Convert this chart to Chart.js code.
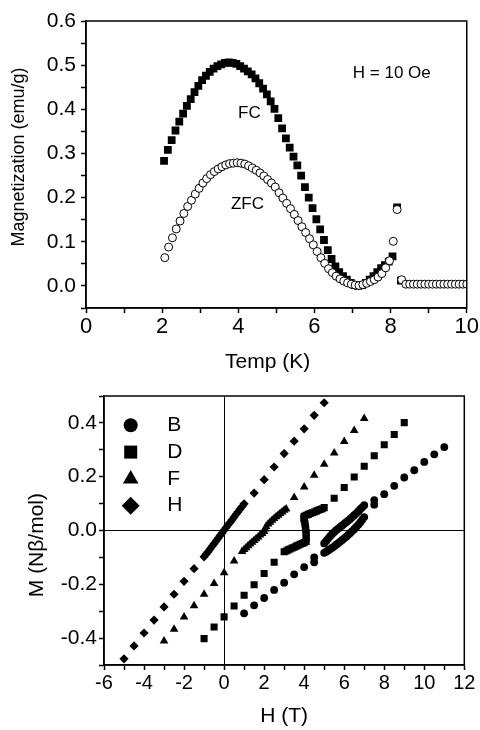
<!DOCTYPE html>
<html>
<head>
<meta charset="utf-8">
<title>Magnetization vs temperature and field</title>
<script src="https://cdn.jsdelivr.net/npm/chart.js@4.4.1/dist/chart.umd.min.js"></script>
<style>
  html, body { margin: 0; padding: 0; background: #fff; }
  #page { position: relative; width: 480px; height: 730px; overflow: hidden; }
  #top-chart { position: absolute; left: 0; top: 0; }
  #bottom-chart { position: absolute; left: 0; top: 380px; }
</style>
</head>
<body>
<div id="page">
  <canvas id="top-chart" width="480" height="380"></canvas>
  <canvas id="bottom-chart" width="480" height="350"></canvas>
</div>
<script>
const FONT = "'Liberation Sans', Arial, Helvetica, sans-serif";

// ---- top panel: M(T) at H = 10 Oe ----
const fcTemp = [2.05, 2.15, 2.25, 2.35, 2.45, 2.55, 2.65, 2.75, 2.85, 2.95,
  3.05, 3.15, 3.25, 3.35, 3.45, 3.55, 3.65, 3.75, 3.85, 3.95,
  4.05, 4.15, 4.25, 4.35, 4.45, 4.55, 4.65, 4.75, 4.85, 4.95,
  5.05, 5.15, 5.25, 5.35, 5.45, 5.55, 5.65, 5.75, 5.85, 5.95,
  6.05, 6.15, 6.25, 6.35, 6.45, 6.55, 6.65, 6.75, 6.85, 6.95,
  7.05, 7.15, 7.25, 7.35, 7.45, 7.55, 7.65, 7.75, 7.85, 7.95,
  8.05, 8.17, 8.27];
const fcMag = [0.283, 0.308, 0.330, 0.352, 0.372, 0.390, 0.408, 0.423, 0.439, 0.453,
  0.466, 0.476, 0.485, 0.492, 0.498, 0.502, 0.505, 0.506, 0.505, 0.503,
  0.498, 0.492, 0.486, 0.479, 0.470, 0.459, 0.447, 0.434, 0.418, 0.401,
  0.380, 0.357, 0.334, 0.313, 0.293, 0.273, 0.250, 0.224, 0.200, 0.176,
  0.151, 0.128, 0.104, 0.081, 0.061, 0.044, 0.031, 0.022, 0.014, 0.007,
  0.002, 0.000, 0.002, 0.007, 0.014, 0.022, 0.031, 0.040, 0.047, 0.055,
  0.067, 0.178, 0.012];

const zfcTemp = [2.07, 2.17, 2.27, 2.37, 2.47, 2.57, 2.67, 2.77, 2.87, 2.97,
  3.07, 3.17, 3.27, 3.37, 3.47, 3.57, 3.67, 3.77, 3.87, 3.97,
  4.07, 4.17, 4.27, 4.37, 4.47, 4.57, 4.67, 4.77, 4.87, 4.97,
  5.07, 5.17, 5.27, 5.37, 5.47, 5.57, 5.67, 5.77, 5.87, 5.97,
  6.07, 6.17, 6.27, 6.37, 6.47, 6.57, 6.67, 6.77, 6.87, 6.97,
  7.07, 7.17, 7.27, 7.37, 7.47, 7.57, 7.67, 7.77, 7.87, 7.97,
  8.07, 8.17, 8.29,
  8.40, 8.50, 8.60, 8.70, 8.80, 8.90, 9.00, 9.10, 9.20, 9.30,
  9.40, 9.50, 9.60, 9.70, 9.80, 9.90, 10.00];
const zfcMag = [0.064, 0.088, 0.109, 0.129, 0.147, 0.164, 0.180, 0.194, 0.208, 0.221,
  0.233, 0.243, 0.252, 0.259, 0.265, 0.270, 0.274, 0.277, 0.278, 0.279,
  0.278, 0.276, 0.272, 0.267, 0.262, 0.256, 0.249, 0.241, 0.233, 0.224,
  0.211, 0.199, 0.187, 0.175, 0.162, 0.148, 0.134, 0.121, 0.107, 0.093,
  0.078, 0.064, 0.051, 0.039, 0.030, 0.022, 0.016, 0.011, 0.007, 0.004,
  0.002, 0.001, 0.003, 0.006, 0.010, 0.014, 0.020, 0.028, 0.041, 0.057,
  0.101, 0.173, 0.014,
  0.004, 0.004, 0.004, 0.004, 0.004, 0.004, 0.004, 0.004, 0.004, 0.004,
  0.004, 0.004, 0.004, 0.004, 0.004, 0.004, 0.004];

// ---- bottom panel: M(H) for samples B, D, F, H ----
const bField = [1.0, 1.5, 2.0, 2.5, 3.0, 3.5, 4.0, 4.5, 4.5,
  5.0, 5.1, 5.2, 5.3, 5.4, 5.5, 5.6, 5.7, 5.8, 5.9, 6.0, 6.1, 6.2, 6.3, 6.4, 6.5, 6.6, 6.7, 6.8, 6.9, 7.0,
  5.0, 5.1, 5.2, 5.3, 5.4, 5.5, 5.6, 5.7, 5.8, 5.9, 6.0, 6.1, 6.2, 6.3, 6.4, 6.5, 6.6, 6.7, 6.8, 6.9, 7.0,
  7.5, 7.5, 8.0, 8.5, 9.0, 9.5, 10.0, 10.5, 11.0];
const bMoment = [-0.308, -0.278, -0.251, -0.221, -0.194, -0.163, -0.136, -0.100, -0.118,
  -0.048, -0.039, -0.030, -0.021, -0.013, -0.006, 0.001, 0.007, 0.013, 0.019, 0.025,
  0.031, 0.037, 0.043, 0.050, 0.057, 0.064, 0.071, 0.079, 0.086, 0.094,
  -0.083, -0.079, -0.074, -0.069, -0.064, -0.059, -0.053, -0.047, -0.041, -0.035, -0.029,
  -0.023, -0.016, -0.009, -0.002, 0.005, 0.013, 0.021, 0.030, 0.040, 0.050,
  0.096, 0.113, 0.135, 0.166, 0.197, 0.224, 0.255, 0.283, 0.310];

const dField = [-1.0, -0.5, 0.0, 0.5, 1.0, 1.5, 2.0, 2.5,
  3.0, 3.1, 3.2, 3.3, 3.4, 3.5, 3.6, 3.7, 3.8, 3.9, 4.0, 4.1,
  4.1, 4.1, 4.1, 4.08, 4.06, 4.04, 4.01, 3.98,
  4.0, 4.1, 4.2, 4.3, 4.4, 4.5, 4.6, 4.7, 4.8, 4.9, 5.0,
  5.5, 6.0, 6.5, 7.0, 7.5, 8.0, 8.5, 9.0];
const dMoment = [-0.402, -0.359, -0.321, -0.281, -0.241, -0.202, -0.160, -0.118,
  -0.079, -0.076, -0.072, -0.069, -0.065, -0.062, -0.058, -0.055, -0.051, -0.048, -0.045, -0.041,
  -0.030, -0.019, -0.008, 0.003, 0.014, 0.025, 0.036, 0.046,
  0.053, 0.057, 0.060, 0.063, 0.066, 0.069, 0.072, 0.075, 0.078, 0.081, 0.085,
  0.120, 0.160, 0.199, 0.239, 0.278, 0.319, 0.357, 0.401];

const fField = [-3.0, -2.5, -2.0, -1.5, -1.0, -0.5, 0.0, 0.5,
  0.9, 1.0, 1.1, 1.2, 1.3, 1.4, 1.5, 1.6, 1.7, 1.8, 1.9, 2.0, 2.05, 2.1,
  2.2, 2.3, 2.4, 2.5, 2.6, 2.7, 2.8, 2.9, 3.0, 3.1,
  3.5, 4.0, 4.5, 5.0, 5.5, 6.0, 6.5, 7.0];
const fMoment = [-0.411, -0.367, -0.322, -0.280, -0.237, -0.197, -0.157, -0.113,
  -0.078, -0.071, -0.064, -0.057, -0.050, -0.044, -0.037, -0.031, -0.024, -0.017, -0.011, -0.004, 0.006, 0.015,
  0.024, 0.031, 0.038, 0.045, 0.051, 0.057, 0.063, 0.069, 0.075, 0.080,
  0.123, 0.162, 0.205, 0.246, 0.288, 0.331, 0.372, 0.416];

const hField = [-5.0, -4.5, -4.0, -3.5, -3.0, -2.5, -2.0, -1.5,
  -1.0, -0.9, -0.8, -0.7, -0.6, -0.5, -0.4, -0.3, -0.2, -0.1, 0.0,
  0.1, 0.2, 0.3, 0.4, 0.5, 0.6, 0.7, 0.8, 0.9, 1.0,
  1.5, 2.0, 2.5, 3.0, 3.5, 4.0, 4.5, 5.0];
const hMoment = [-0.477, -0.429, -0.381, -0.333, -0.284, -0.237, -0.189, -0.142,
  -0.098, -0.088, -0.079, -0.069, -0.059, -0.049, -0.039, -0.029, -0.019, -0.009, 0.001,
  0.011, 0.021, 0.030, 0.040, 0.050, 0.060, 0.070, 0.080, 0.089, 0.099,
  0.139, 0.189, 0.236, 0.286, 0.332, 0.378, 0.428, 0.475];

const toPoints = (xs, ys) => xs.map((x, i) => ({ x: x, y: ys[i] }));

Chart.defaults.font.family = FONT;
Chart.defaults.color = '#000';

// box round the plot area
const framePlugin = {
  id: 'frame',
  afterDraw(chart) {
    const { ctx, chartArea: a } = chart;
    ctx.save();
    ctx.strokeStyle = '#000';
    ctx.lineWidth = 1.5;
    ctx.strokeRect(a.left, a.top, a.right - a.left, a.bottom - a.top);
    ctx.restore();
  }
};

// free text placed in data coordinates
const notesPlugin = {
  id: 'notes',
  afterDatasetsDraw(chart, args, opts) {
    const { ctx, scales } = chart;
    ctx.save();
    ctx.fillStyle = '#000';
    ctx.font = opts.font;
    ctx.textAlign = 'center';
    ctx.textBaseline = 'middle';
    opts.items.forEach(n => {
      ctx.fillText(n.text, scales.x.getPixelForValue(n.x), scales.y.getPixelForValue(n.y));
    });
    ctx.restore();
  }
};

// legend drawn inside the plot, one row per dataset
const insideLegend = {
  id: 'insideLegend',
  afterDatasetsDraw(chart, args, opts) {
    const { ctx, chartArea: a } = chart;
    ctx.save();
    ctx.fillStyle = '#000';
    ctx.strokeStyle = '#000';
    chart.data.datasets.forEach((ds, i) => {
      const cy = a.top + opts.top + i * opts.gap;
      Chart.helpers.drawPoint(ctx, { pointStyle: ds.pointStyle, radius: opts.radii[i], borderWidth: 0, rotation: 0 },
        a.left + opts.markerX, cy);
      ctx.font = opts.font;
      ctx.textAlign = 'left';
      ctx.textBaseline = 'middle';
      ctx.fillText(ds.label, a.left + opts.textX, cy);
    });
    ctx.restore();
  }
};

const tickGrid = { drawOnChartArea: false, tickLength: 5, tickWidth: 1.5, tickColor: '#000' };
const axisBorder = { color: '#000', width: 1.5 };

// top chart
new Chart(document.getElementById('top-chart'), {
  type: 'scatter',
  data: {
    datasets: [
      {
        label: 'ZFC',
        data: toPoints(zfcTemp, zfcMag),
        pointStyle: 'circle',
        pointRadius: 4,
        pointBorderWidth: 1,
        pointBackgroundColor: '#fff',
        pointBorderColor: '#000',
        order: 0
      },
      {
        label: 'FC',
        data: toPoints(fcTemp, fcMag),
        pointStyle: 'rect',
        pointRadius: 5.5,
        pointBorderWidth: 0,
        pointBackgroundColor: '#000',
        pointBorderColor: '#000',
        order: 1
      }
    ]
  },
  options: {
    responsive: false,
    animation: false,
    devicePixelRatio: 1,
    events: [],
    layout: { padding: { top: 21, right: 12.5, left: 0, bottom: 0 } },
    plugins: {
      legend: { display: false },
      tooltip: { enabled: false },
      notes: {
        font: '17px ' + FONT,
        items: [
          { text: 'H = 10 Oe', x: 8.03, y: 0.482 },
          { text: 'FC', x: 4.29, y: 0.39 },
          { text: 'ZFC', x: 4.24, y: 0.185 }
        ]
      }
    },
    scales: {
      x: {
        type: 'linear', min: 0, max: 10,
        afterFit: s => { s.height = 72; },
        ticks: {
          stepSize: 1, autoSkip: false, maxRotation: 0, padding: 1,
          font: { size: 22 },
          callback: v => (Math.round(v) % 2 === 0 ? String(Math.round(v)) : '')
        },
        grid: tickGrid,
        border: axisBorder,
        title: { display: true, text: 'Temp (K)   ', font: { size: 21 }, padding: { top: 0, bottom: 5 } }
      },
      y: {
        min: -0.05, max: 0.6,
        afterFit: s => { s.width = 86; },
        ticks: {
          stepSize: 0.05, autoSkip: false, padding: 5,
          font: { size: 21 },
          callback: v => {
            const k = Math.round(v * 20);
            return (k >= 0 && k % 2 === 0) ? (k / 20).toFixed(1) : '';
          }
        },
        grid: tickGrid,
        border: axisBorder,
        title: { display: true, text: '   Magnetization (emu/g)', font: { size: 18 }, padding: { top: 8, bottom: 0 } }
      }
    }
  },
  plugins: [framePlugin, notesPlugin]
});

// bottom chart
const markerSet = (label, xs, ys, style, r) => ({
  label: label,
  data: toPoints(xs, ys),
  pointStyle: style,
  pointRadius: r,
  pointBorderWidth: 0,
  pointBackgroundColor: '#000',
  pointBorderColor: '#000'
});

const zeroLine = c => (c.tick && Math.abs(c.tick.value) < 1e-9 ? '#000' : 'rgba(0,0,0,0)');

new Chart(document.getElementById('bottom-chart'), {
  type: 'scatter',
  data: {
    datasets: [
      markerSet('B', bField, bMoment, 'circle', 3.9),
      markerSet('D', dField, dMoment, 'rect', 5),
      markerSet('F', fField, fMoment, 'triangle', 5),
      markerSet('H', hField, hMoment, 'rectRot', 4.6)
    ]
  },
  options: {
    responsive: false,
    animation: false,
    devicePixelRatio: 1,
    events: [],
    layout: { padding: { top: 16, right: 15.7, left: 0, bottom: 0 } },
    plugins: {
      legend: { display: false },
      tooltip: { enabled: false },
      insideLegend: {
        font: '21px ' + FONT,
        top: 29.3, gap: 26.8, markerX: 26.7, textX: 63.3,
        radii: [7, 9.2, 9, 9]
      }
    },
    scales: {
      x: {
        type: 'linear', min: -6, max: 12,
        afterFit: s => { s.height = 65; },
        ticks: {
          stepSize: 1, autoSkip: false, maxRotation: 0, padding: 1,
          font: { size: 20 },
          callback: v => (Math.round(v) % 2 === 0 ? String(Math.round(v)) : '')
        },
        grid: { drawOnChartArea: true, color: zeroLine, lineWidth: 1, tickLength: 5, tickWidth: 1.5, tickColor: '#000' },
        border: axisBorder,
        title: { display: true, text: 'H (T)', font: { size: 21 }, padding: { top: 0, bottom: 1 } }
      },
      y: {
        min: -0.5, max: 0.5,
        afterFit: s => { s.width = 104; },
        ticks: {
          stepSize: 0.1, autoSkip: false, padding: 2,
          font: { size: 21 },
          callback: v => {
            const k = Math.round(v * 10);
            return (Math.abs(k) < 5 && k % 2 === 0) ? (k / 10).toFixed(1) : '';
          }
        },
        grid: { drawOnChartArea: true, color: zeroLine, lineWidth: 1, tickLength: 5, tickWidth: 1.5, tickColor: '#000' },
        border: axisBorder,
        title: { display: true, text: 'M (Nβ/mol)     ', font: { size: 21 }, padding: { top: 25, bottom: 0 } }
      }
    }
  },
  plugins: [framePlugin, insideLegend]
});
</script>
</body>
</html>
